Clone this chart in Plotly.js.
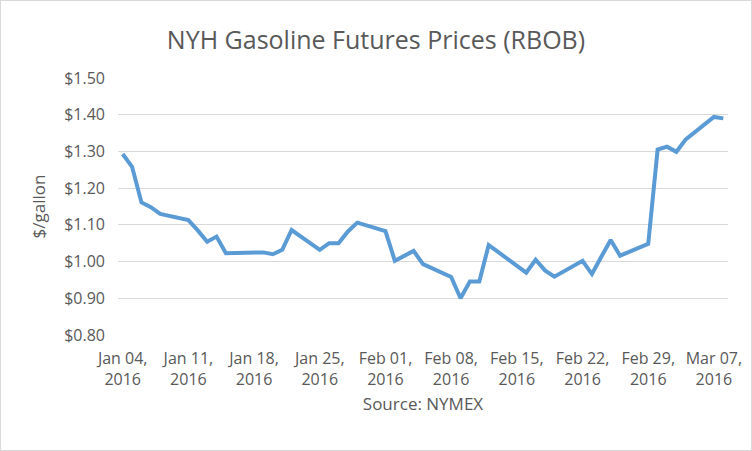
<!DOCTYPE html>
<html>
<head>
<meta charset="utf-8">
<script src="https://cdn.plot.ly/plotly-3.0.1.min.js"></script>
<style>
html,body{margin:0;padding:0;background:#fff;}
#chart{width:752px;height:451px;box-sizing:border-box;border:1px solid #d9d9d9;}
</style>
</head>
<body>
<div id="chart"></div>
<script>
const dates = [
  "2016-01-04","2016-01-05","2016-01-06","2016-01-07","2016-01-08",
  "2016-01-11","2016-01-12","2016-01-13","2016-01-14","2016-01-15",
  "2016-01-19","2016-01-20","2016-01-21","2016-01-22",
  "2016-01-25","2016-01-26","2016-01-27","2016-01-28","2016-01-29",
  "2016-02-01","2016-02-02","2016-02-03","2016-02-04","2016-02-05",
  "2016-02-08","2016-02-09","2016-02-10","2016-02-11","2016-02-12",
  "2016-02-16","2016-02-17","2016-02-18","2016-02-19",
  "2016-02-22","2016-02-23","2016-02-24","2016-02-25","2016-02-26",
  "2016-02-29","2016-03-01","2016-03-02","2016-03-03","2016-03-04",
  "2016-03-07","2016-03-08"
];
const prices = [
  1.293,1.258,1.161,1.148,1.130,
  1.113,1.085,1.054,1.068,1.023,
  1.025,1.020,1.032,1.086,
  1.032,1.050,1.050,1.082,1.106,
  1.083,1.002,1.015,1.029,0.993,
  0.958,0.900,0.946,0.946,1.045,
  0.970,1.005,0.976,0.959,
  1.002,0.966,1.013,1.059,1.016,
  1.048,1.305,1.313,1.299,1.333,
  1.394,1.390
];
const tickDates = ["2016-01-04","2016-01-11","2016-01-18","2016-01-25","2016-02-01",
  "2016-02-08","2016-02-15","2016-02-22","2016-02-29","2016-03-07"];
const tickLabels = ["Jan 04,<br>2016","Jan 11,<br>2016","Jan 18,<br>2016","Jan 25,<br>2016","Feb 01,<br>2016",
  "Feb 08,<br>2016","Feb 15,<br>2016","Feb 22,<br>2016","Feb 29,<br>2016","Mar 07,<br>2016"];
const yTicks = [0.8,0.9,1.0,1.1,1.2,1.3,1.4,1.5];
const yLabels = ["$0.80","$0.90","$1.00","$1.10","$1.20","$1.30","$1.40","$1.50"];

const font = "Open Sans, Liberation Sans, sans-serif";
const grey = "#595959";

Plotly.newPlot("chart", [{
  x: dates, y: prices, type: "scatter", mode: "lines",
  line: {color: "#5b9bd5", width: 4}
}], {
  width: 750, height: 449,
  margin: {l: 117, r: 23, t: 77, b: 115},
  paper_bgcolor: "#fff", plot_bgcolor: "#fff",
  showlegend: false,
  title: {text: "NYH Gasoline Futures Prices (RBOB)", font: {family: font, size: 25, color: grey}, x: 0.5, xanchor: "center", y: 0.912, yanchor: "middle"},
  xaxis: {
    type: "date",
    range: ["2016-01-03 12:00", "2016-03-08 12:00"],
    tickmode: "array", tickvals: tickDates, ticktext: tickLabels,
    showgrid: false, showline: false, zeroline: false, ticks: "",
    ticklabelstandoff: 12,
    tickfont: {family: font, size: 16, color: grey},
    title: {text: "Source: NYMEX", font: {family: font, size: 17, color: grey}, standoff: 9}
  },
  yaxis: {
    range: [0.8, 1.5],
    tickmode: "array", tickvals: yTicks, ticktext: yLabels,
    showgrid: true, gridcolor: "#d9d9d9", gridwidth: 1,
    zeroline: false, showline: false, ticks: "",
    ticklabelstandoff: 12,
    tickfont: {family: font, size: 16, color: grey},
    title: {text: "$/gallon", font: {family: font, size: 17, color: grey}, standoff: 14}
  }
}, {displayModeBar: false, staticPlot: true});
</script>
</body>
</html>
